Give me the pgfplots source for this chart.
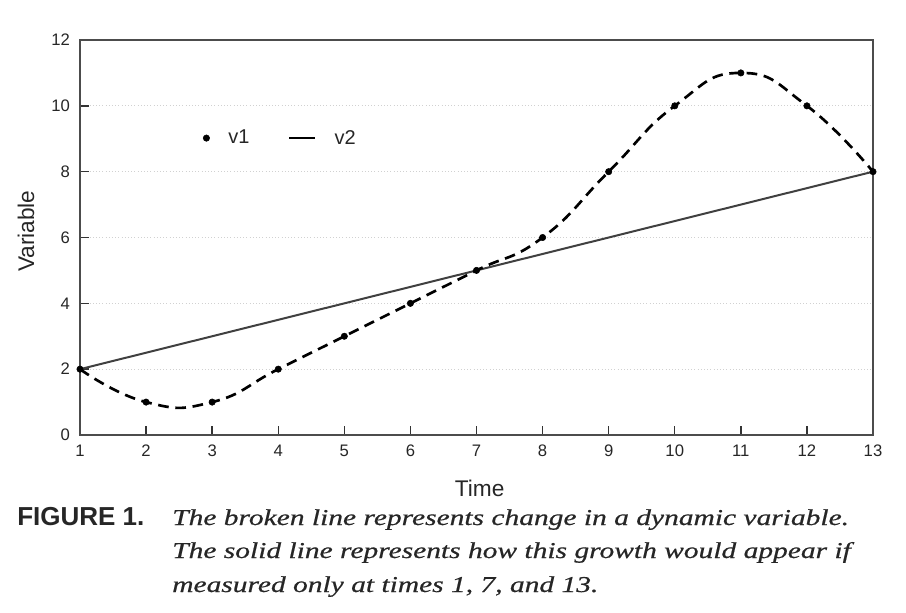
\documentclass[border=0pt]{standalone}
\usepackage{pgfplots}
\pgfplotsset{compat=1.18}
\usepackage{fontspec}
\setmainfont{Liberation Sans}
\newfontfamily\capfont[FakeStretch=1.3, FakeBold=0.6]{Liberation Serif}
\newfontfamily\figfont{Liberation Sans}
\pgfplotsset{shortdash legend/.style={legend image code/.code={\draw[##1, solid] (0pt,0pt) -- (19pt,0pt);}}}
\begin{document}
\begin{tikzpicture}
\path[use as bounding box] (-60pt,-132.75pt) rectangle (619.5pt,326.25pt);
\begin{axis}[
  at={(0,0)}, anchor=south west,
  scale only axis, width=594.75pt, height=296.25pt,
  xmin=1, xmax=13, ymin=0, ymax=12,
  xtick={1,...,13}, ytick={0,2,...,12},
  tick align=inside, tick pos=left,
  major tick length=7pt,
  tick style={black!80, line width=1.1pt},
  axis line style={black!70, line width=1.3pt},
  ymajorgrids, grid style={black!18, dotted, line width=0.7pt},
  /pgf/number format/assume math mode=true,
  ticklabel style={font=\fontsize{12.5}{15}\selectfont, text=black!85},
  xticklabel style={yshift=-4pt},
  yticklabel style={xshift=-4pt},
  xlabel={Time}, ylabel={Variable},
  label style={font=\fontsize{17}{20}\selectfont, text=black!85},
  xlabel style={at={(axis description cs:0.504,0)}, anchor=center, yshift=-39.75pt},
  ylabel style={at={(axis description cs:0,0.516)}, anchor=center, yshift=40.5pt},
  legend style={at={(axis cs:2.8,9.02)}, anchor=west, draw=none, fill=none,
    font=\fontsize{15}{17}\selectfont, text=black!85},
  legend columns=2,
  legend cell align=left,
  /tikz/every odd column/.append style={column sep=12pt},
  /tikz/every even column/.append style={column sep=27pt},
]
\addplot[forget plot, black!75, line width=1.5pt] coordinates {(1,2) (13,8)};
\addplot[only marks, mark=*, mark size=2.4pt, black] coordinates {
(1,2) (2,1) (3,1) (4,2) (5,3) (6,4) (7,5) (8,6) (9,8) (10,10) (11,11) (12,10) (13,8)};
\addlegendentry{v1}
\addplot[black, line width=2pt, dash pattern=on 8pt off 5pt, smooth, tension=0.85, mark=none,
  shortdash legend] coordinates {
(1,2) (2,1) (3,1) (4,2) (5,3) (6,4) (7,5) (8,6) (9,8) (10,10) (11,11) (12,10) (13,8)};
\addlegendentry{v2}
\end{axis}
\node[anchor=base west, inner sep=0, text=black!85, font=\figfont\bfseries\fontsize{19.5}{22}\selectfont] at (-47.25pt,-67.5pt) {FIGURE 1.};
\node[anchor=base west, inner sep=0, text=black!85, font=\capfont\itshape\fontsize{17}{20}\selectfont] at (69pt,-67.5pt) {The broken line represents change in a dynamic variable.};
\node[anchor=base west, inner sep=0, text=black!85, font=\capfont\itshape\fontsize{17}{20}\selectfont] at (69pt,-92.25pt) {The solid line represents how this growth would appear if};
\node[anchor=base west, inner sep=0, text=black!85, font=\capfont\itshape\fontsize{17}{20}\selectfont] at (69pt,-117.75pt) {measured only at times 1, 7, and 13.};
\end{tikzpicture}
\end{document}
